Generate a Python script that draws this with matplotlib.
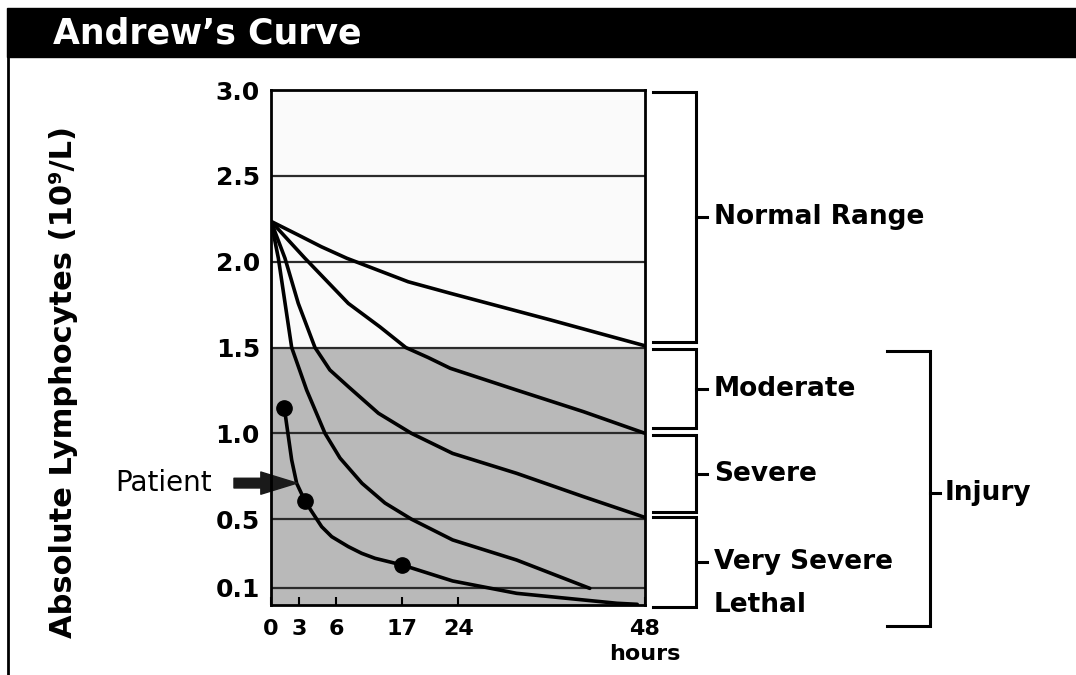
import matplotlib
matplotlib.use('Agg')
import matplotlib.pyplot as plt
from matplotlib.patches import Rectangle
from matplotlib.lines import Line2D
import numpy as np

plt.rcParams['font.family'] = ['DejaVu Sans']

# the hour axis in the drawing is not linear: tick hours and where they sit (axes fraction)
hour_ticks = [0, 3, 6, 17, 24, 48]
hour_tick_pos = [0.0, 0.0757, 0.1738, 0.3495, 0.5008, 1.0]
hour_labels = ['0', '3', '6', '17', '24', '48\nhours']

level_ticks = [3.0, 2.5, 2.0, 1.5, 1.0, 0.5, 0.1]
level_lines = [2.5, 2.0, 1.5, 1.0, 0.5, 0.1]
injury_limit = 1.5

# reference curves (hours, 10^9/L)
normal_h = [0, 2.9, 4.8, 7.8, 17.8, 23.0, 35.9, 42.1, 48]
normal_v = [2.235, 2.155, 2.087, 2.02, 1.883, 1.816, 1.66, 1.583, 1.51]
moderate_h = [0, 3.46, 8.06, 13.36, 17.5, 20.25, 23.0, 31.5, 40.1, 48]
moderate_v = [2.235, 2.02, 1.757, 1.62, 1.5, 1.442, 1.379, 1.252, 1.126, 1.0]
severe_h = [0, 1.48, 2.89, 4.28, 5.5, 8.06, 13.1, 18.2, 23.3, 31.5, 40.1, 48]
severe_v = [2.235, 2.02, 1.757, 1.5, 1.369, 1.272, 1.117, 1.0, 0.883, 0.767, 0.631, 0.51]
very_severe_h = [0, 0.78, 2.19, 3.6, 5.1, 6.67, 10.35, 14.2, 18.2, 23.3, 31.5, 40.9]
very_severe_v = [2.235, 2.02, 1.5, 1.252, 1.0, 0.856, 0.709, 0.594, 0.5, 0.379, 0.262, 0.097]

# patient
patient_h = [1.41, 2.19, 2.72, 3.46, 4.02, 4.83, 5.65, 8.06, 10.3, 12.53, 17.07,
             23.3, 31.5, 44.4, 47.0]
patient_v = [1.149, 0.845, 0.709, 0.606, 0.544, 0.456, 0.398, 0.34, 0.301, 0.272, 0.233,
             0.14, 0.068, 0.01, 0.004]
dots_h = [1.41, 3.46, 17.07]
dots_v = [1.149, 0.606, 0.233]
arrow_h = 2.75
arrow_v = 0.71

# brackets on the right
bracket_labels = ['Normal Range', 'Moderate', 'Severe', 'Very Severe']
bracket_top = [2.99, 1.49, 0.99, 0.51]
bracket_bottom = [1.53, 1.03, 0.54, -0.01]
injury_top = 1.48
injury_bottom = -0.12


def fwd(h):
    return np.interp(h, hour_ticks, hour_tick_pos)


def inv(p):
    return np.interp(p, hour_tick_pos, hour_ticks)


fig = plt.figure(figsize=(10.76, 6.75), dpi=100)

# title banner + left border
fig.add_artist(Rectangle((7 / 1076, 1 - 57 / 675), 1, 49 / 675,
                         transform=fig.transFigure, color='black'))
fig.text(53 / 1076, 1 - 33 / 675, 'Andrew\u2019s Curve', color='white',
         fontsize=25, fontweight='bold', va='center', ha='left')
fig.add_artist(Line2D([8 / 1076, 8 / 1076], [0, 1 - 56 / 675],
                      transform=fig.transFigure, color='black', lw=2))

ax = fig.add_axes([271 / 1076, 1 - 605 / 675, 374 / 1076, 515 / 675])
ax.set_xscale('function', functions=(fwd, inv))
ax.set_xlim(0, 48)
ax.set_ylim(0, 3.0)

ax.axhspan(injury_limit, 3.0, color='#fafafa', zorder=0)
ax.axhspan(0, injury_limit, color='#b9b9b9', zorder=0)
for lv in level_lines:
    ax.axhline(lv, color='#2b2b2b', lw=1.6, zorder=1)

for hh, vv in [(normal_h, normal_v), (moderate_h, moderate_v),
               (severe_h, severe_v), (very_severe_h, very_severe_v),
               (patient_h, patient_v)]:
    ax.plot(hh, vv, color='black', lw=2.6, solid_capstyle='round',
            solid_joinstyle='round', zorder=3)
ax.plot(dots_h, dots_v, 'o', color='black', ms=11, zorder=4)

ax.annotate('', xy=(arrow_h, arrow_v), xytext=(-0.099, arrow_v),
            textcoords=('axes fraction', 'data'),
            arrowprops=dict(arrowstyle='simple,head_length=2.6,head_width=1.6,tail_width=0.7',
                            color='#1a1a1a', shrinkA=0, shrinkB=0),
            annotation_clip=False)
ax.text(-0.158, arrow_v, 'Patient', transform=ax.get_yaxis_transform(),
        ha='right', va='center', fontsize=20)

ax.set_yticks(level_ticks)
ax.set_yticklabels([f'{v:.1f}' for v in level_ticks], fontsize=18, fontweight='bold')
ax.set_xticks(hour_ticks)
ax.set_xticklabels(hour_labels, fontsize=16, fontweight='bold', linespacing=1.3)
ax.tick_params(axis='y', length=0, pad=8)
ax.tick_params(axis='x', direction='in', length=6, width=1.5, pad=10)
for sp in ax.spines.values():
    sp.set_linewidth(2)
    sp.set_zorder(5)

# brackets (x in axes fraction, y in data)
tr = ax.get_yaxis_transform()
xl, xv, xt, xtext = 1.0214, 1.1364, 1.1658, 1.1845
for lab, top, bot in zip(bracket_labels, bracket_top, bracket_bottom):
    ax.plot([xl, xv, xv, xl], [top, top, bot, bot], color='black', lw=2.2,
            transform=tr, clip_on=False, solid_joinstyle='miter')
    mid = (top + bot) / 2
    ax.plot([xv, xt], [mid, mid], color='black', lw=2.2, transform=tr, clip_on=False)
    ax.text(xtext, mid, lab, transform=tr, ha='left', va='center',
            fontsize=19, fontweight='bold')
ax.text(xtext, 0.0, 'Lethal', transform=tr, ha='left', va='center',
        fontsize=19, fontweight='bold')

il, iv, it, itext = 1.647, 1.762, 1.789, 1.802
imid = (injury_top + injury_bottom) / 2 - 0.03
ax.plot([il, iv, iv, il], [injury_top, injury_top, injury_bottom, injury_bottom],
        color='black', lw=2.2, transform=tr, clip_on=False, solid_joinstyle='miter')
ax.plot([iv, it], [imid, imid], color='black', lw=2.2, transform=tr, clip_on=False)
ax.text(itext, imid, 'Injury', transform=tr, ha='left', va='center',
        fontsize=19, fontweight='bold')

fig.text(64 / 1076, 1 - 382 / 675, 'Absolute Lymphocytes (10\u2079/L)', rotation=90,
         ha='center', va='center', fontsize=22, fontweight='bold')

fig.savefig('out.png', dpi=100)
